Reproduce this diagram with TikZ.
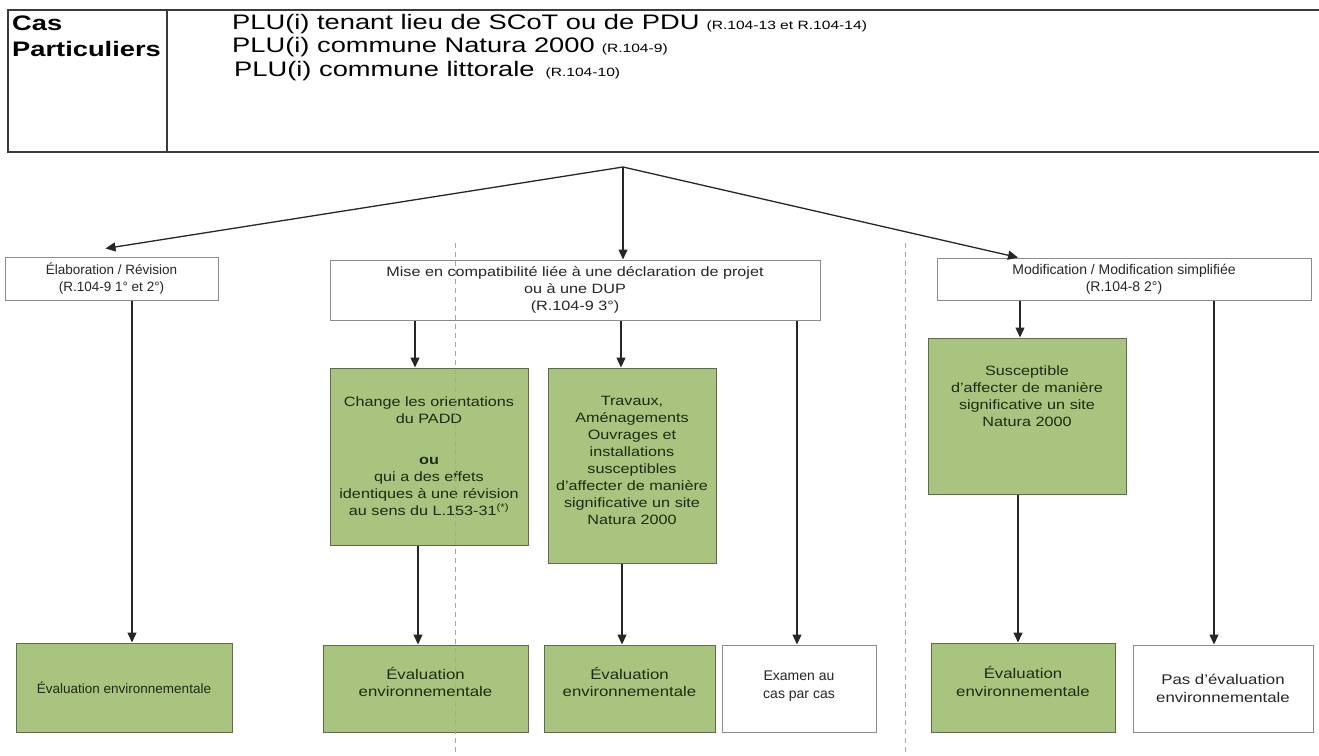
\documentclass[tikz,border=0pt]{standalone}
\usepackage{fontspec}
\setmainfont{Liberation Sans}[FakeStretch=1.2]
\newfontfamily\plainfont{Liberation Sans}
\newfontfamily\headfont{Liberation Sans}[FakeStretch=1.3]
\usetikzlibrary{arrows.meta, positioning}
\definecolor{boxgreen}{HTML}{A8C47E}
\definecolor{boxgreenline}{HTML}{5E6B4C}
\definecolor{textgreen}{HTML}{1E2B12}
\definecolor{boxgray}{HTML}{8C8C8C}
\definecolor{headline}{HTML}{3A3A3A}

\begin{document}
\begin{tikzpicture}[x=1pt, y=-1pt,
  headbox/.style={draw=headline, line width=2pt},
  whitebox/.style={draw=boxgray, fill=white, line width=1pt, align=center,
    inner sep=0pt, text=black!85, font=\fontsize{13.5}{17}\selectfont},
  greenbox/.style={draw=boxgreenline, fill=boxgreen, line width=1pt, align=center,
    inner sep=0pt, text=textgreen, font=\fontsize{13.5}{17}\selectfont},
  headtext/.style={anchor=base west, inner sep=0pt, font=\headfont\fontsize{21}{23}\selectfont},
  arr/.style={-{Triangle[length=10pt, width=9pt]}, line width=1.3pt, black!85},
  sepline/.style={gray!70, line width=0.8pt, dash pattern=on 5pt off 4pt},
]
\useasboundingbox (0,0) rectangle (1319,755);
\newcommand\reftxt[1]{{\fontsize{12}{14}\selectfont #1}}

% header
\draw[headbox] (8,10) rectangle (167,152);
\draw[headbox] (167,10) -- (1325,10) (167,152) -- (1325,152);
\node[anchor=north west, align=left, inner sep=0pt,
  font=\headfont\fontsize{21}{26}\selectfont\bfseries] (cas) at (12,16) {Cas\\Particuliers};
\node[headtext] (plu1) at (232,29)
  {PLU(i) tenant lieu de SCoT ou de PDU\hspace{7pt}\reftxt{(R.104-13 et R.104-14)}};
\node[headtext] (plu2) at (232,52)
  {PLU(i) commune Natura 2000\hspace{7pt}\reftxt{(R.104-9)}};
\node[headtext] (plu3) at (234,76)
  {PLU(i) commune littorale\hspace{11pt}\reftxt{(R.104-10)}};
\coordinate (split) at (623,167);

% second row
\node[whitebox, minimum width=213pt, minimum height=43pt,
  font=\plainfont\fontsize{13.5}{17}\selectfont] (elab) at (111.5,278.5)
  {Élaboration / Révision\\(R.104-9 1° et 2°)};
\node[whitebox, minimum width=490pt, minimum height=60pt] (mise) at (575,290)
  {Mise en compatibilité liée à une déclaration de projet\\ou à une DUP\\(R.104-9 3°)};
\node[whitebox, minimum width=374pt, minimum height=42pt,
  font=\plainfont\fontsize{14}{17}\selectfont] (modif) at (1124,279)
  {Modification / Modification simplifiée\\(R.104-8 2°)};

% criteria
\node[greenbox, minimum width=198pt, minimum height=177pt] (change) at (429,456.5)
  {Change les orientations\\du PADD\\[24pt]\textbf{ou}\\qui a des effets\\identiques à une révision\\au sens du L.153-31\textsuperscript{(*)}};
\node[greenbox, minimum width=168pt, minimum height=195pt] (travaux) at (632,465.5)
  {Travaux,\\Aménagements\\Ouvrages et\\installations\\susceptibles\\d'affecter de manière\\significative un site\\Natura 2000\\[-6pt]};
\node[greenbox, minimum width=198pt, minimum height=156pt] (suscep) at (1027,416) {};
\node[align=center, inner sep=0pt, text=textgreen, font=\fontsize{13.5}{17}\selectfont,
  anchor=north] (susceptxt) at (1027,366)
  {Susceptible\\d'affecter de manière\\significative un site\\Natura 2000};

% results
\node[greenbox, minimum width=216pt, minimum height=89pt,
  font=\plainfont\fontsize{13.5}{17}\selectfont] (eval1) at (124,687.5)
  {Évaluation environnementale};
\node[greenbox, minimum width=205pt, minimum height=87pt,
  font=\fontsize{14}{17.5}\selectfont] (eval2) at (425.5,688.5)
  {Évaluation\\environnementale\\[-4pt]};
\node[greenbox, minimum width=171pt, minimum height=87pt,
  font=\fontsize{14}{17.5}\selectfont] (eval3) at (629.5,688.5)
  {Évaluation\\environnementale\\[-4pt]};
\node[whitebox, minimum width=154pt, minimum height=87pt,
  font=\plainfont\fontsize{14}{17.5}\selectfont] (examen) at (799,688.5)
  {Examen au\\cas par cas\\[-10pt]};
\node[greenbox, minimum width=184pt, minimum height=89pt,
  font=\fontsize{14}{17.5}\selectfont] (eval4) at (1023,687.5)
  {Évaluation\\environnementale\\[-5pt]};
\node[whitebox, minimum width=180pt, minimum height=87pt,
  font=\fontsize{14}{17.5}\selectfont] (pas) at (1223,688.5)
  {Pas d'évaluation\\environnementale};

% connectors
\draw[arr] (split) -- ([xshift=-6pt, yshift=8pt]elab.north);
\draw[arr] (split) -- (mise.north -| split);
\draw[arr] (split) -- ([xshift=-106pt]modif.north);
\draw[arr] ([xshift=20.5pt]elab.south) -- ([xshift=8pt]eval1.north);
\draw[arr] ([xshift=-160pt]mise.south) -- ([xshift=-14pt]change.north);
\draw[arr] ([xshift=46pt]mise.south) -- ([xshift=-11pt]travaux.north);
\draw[arr] ([xshift=222pt]mise.south) -- ([xshift=-2pt]examen.north);
\draw[arr] ([xshift=-11pt]change.south) -- ([xshift=-7.5pt]eval2.north);
\draw[arr] ([xshift=-10pt]travaux.south) -- ([xshift=-7.5pt]eval3.north);
\draw[arr] ([xshift=-104pt]modif.south) -- ([xshift=-7pt]suscep.north);
\draw[arr] ([xshift=-9pt]suscep.south) -- ([xshift=-5pt]eval4.north);
\draw[arr] ([xshift=90pt]modif.south) -- ([xshift=-9pt]pas.north);

% separators
\draw[sepline] (455,243) -- (455,755);
\draw[sepline] (905,243) -- (905,755);
\end{tikzpicture}
\end{document}
